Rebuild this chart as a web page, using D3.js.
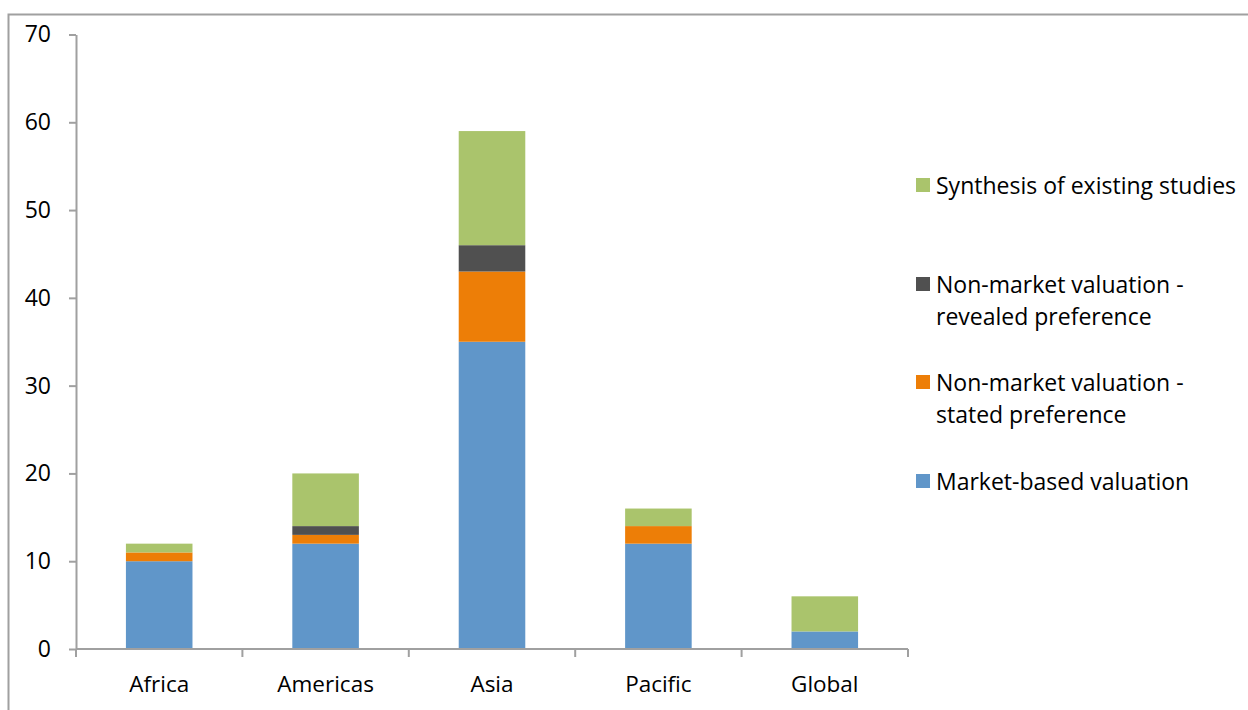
<!DOCTYPE html>
<html>
<head>
<meta charset="utf-8">
<script src="https://cdn.jsdelivr.net/npm/d3@7"></script>
<style>
  html, body { margin: 0; padding: 0; background: #fff; }
  svg { display: block; }
  text { font-family: "Open Sans", "Noto Sans", sans-serif; fill: #000; }
</style>
</head>
<body>
<svg id="chart" width="1248" height="710"></svg>
<script>
const categories = ["Africa", "Americas", "Asia", "Pacific", "Global"];
const seriesNames = [
  "Market-based valuation",
  "Non-market valuation - stated preference",
  "Non-market valuation - revealed preference",
  "Synthesis of existing studies"
];
const marketBased = [10, 12, 35, 12, 2];
const statedPref = [1, 1, 8, 2, 0];
const revealedPref = [0, 1, 3, 0, 0];
const synthesis = [1, 6, 13, 2, 4];
const yTicks = [0, 10, 20, 30, 40, 50, 60, 70];
const colors = ["#6096c9", "#ed7e07", "#505050", "#aac46c"];
const legendLines = [
  ["Synthesis of existing studies"],
  ["Non-market valuation -", "revealed preference"],
  ["Non-market valuation -", "stated preference"],
  ["Market-based valuation"]
];
const legendColorIdx = [3, 2, 1, 0];

const svg = d3.select("#chart");

// outer frame
svg.append("path")
  .attr("d", "M8.5,710 L8.5,14.5 L1248,14.5")
  .attr("fill", "none").attr("stroke", "#a0a0a0").attr("stroke-width", 2);

const x0 = 76, x1 = 908, yTop = 34.5, yBot = 649;
const x = d3.scaleBand().domain(categories).range([x0, x1]).paddingInner(0.6).paddingOuter(0.3);
const y = d3.scaleLinear().domain([0, 70]).range([yBot, yTop]);

const rows = categories.map((c, i) => ({
  cat: c,
  s0: marketBased[i], s1: statedPref[i], s2: revealedPref[i], s3: synthesis[i]
}));
const stack = d3.stack().keys(["s0", "s1", "s2", "s3"])(rows);

svg.append("g").selectAll("g").data(stack).join("g")
  .attr("fill", (d, i) => colors[i])
  .selectAll("rect").data(d => d).join("rect")
  .attr("x", d => x(d.data.cat))
  .attr("width", x.bandwidth())
  .attr("y", d => y(d[1]))
  .attr("height", d => y(d[0]) - y(d[1]));

// y axis
const yAxis = svg.append("g").attr("transform", `translate(${x0},0)`)
  .call(d3.axisLeft(y).tickValues(yTicks).tickSize(7).tickPadding(18).tickSizeOuter(0));
yAxis.select(".domain").attr("stroke", "#a0a0a0").attr("stroke-width", 2);
yAxis.selectAll(".tick line").attr("stroke", "#a0a0a0").attr("stroke-width", 2);
yAxis.selectAll(".tick text").attr("font-size", 23).attr("fill", "#000")
  .style("font-family", '"Open Sans", sans-serif');

// x axis
const xAxisG = svg.append("g").attr("transform", `translate(0,${yBot})`);
xAxisG.append("line").attr("x1", x0).attr("x2", x1).attr("y1", 0).attr("y2", 0)
  .attr("stroke", "#a0a0a0").attr("stroke-width", 2);
const step = (x1 - x0) / categories.length;
const boundaries = d3.range(categories.length + 1).map(i => x0 + i * step);
xAxisG.selectAll("line.tk").data(boundaries).join("line").attr("class", "tk")
  .attr("x1", d => d).attr("x2", d => d).attr("y1", 0).attr("y2", 8)
  .attr("stroke", "#a0a0a0").attr("stroke-width", 2);
xAxisG.selectAll("text").data(categories).join("text")
  .attr("x", d => x(d) + x.bandwidth() / 2)
  .attr("y", 43)
  .attr("text-anchor", "middle")
  .attr("font-size", 22.5)
  .text(d => d);

// legend
const legendY = [186, 285, 383, 482];
const lg = svg.append("g");
legendLines.forEach((lines, i) => {
  const g = lg.append("g").attr("transform", `translate(916,${legendY[i]})`);
  g.append("rect").attr("x", 0).attr("y", -8).attr("width", 14).attr("height", 14)
    .attr("fill", colors[legendColorIdx[i]]);
  lines.forEach((t, j) => {
    g.append("text").attr("x", 20).attr("y", j * 32 + 8).attr("font-size", 23).text(t);
  });
});
</script>
</body>
</html>
